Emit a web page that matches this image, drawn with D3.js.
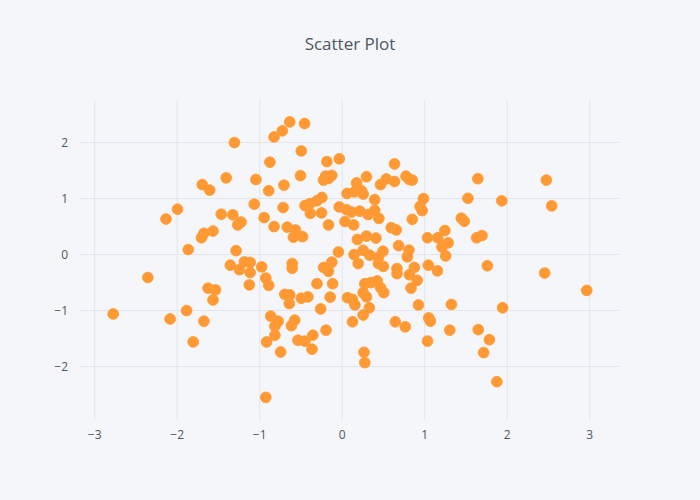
<!DOCTYPE html>
<html>
<head>
<meta charset="utf-8">
<script src="https://cdn.jsdelivr.net/npm/d3@7"></script>
<style>
  html, body { margin: 0; padding: 0; background: #F5F6F9; }
  svg { display: block; }
</style>
</head>
<body>
<div id="chart"></div>
<script>
const title = "Scatter Plot";
const xTicks = [-3, -2, -1, 0, 1, 2, 3];
const yTicks = [-2, -1, 0, 1, 2];

const xValues = [
  -1.30, -1.40, -1.69, -1.60, -1.04, -1.99, -2.13, -1.46, -1.32, -1.06,
  -0.94, -1.22, -1.26, -1.56, -1.67, -1.70, -1.86, -1.28, -1.35, -1.18,
  -1.11, -0.97, -1.24, -1.11, -1.12, -0.92, -0.885, -2.35, -2.77, -2.08,
  -1.88, -1.67, -1.80, -1.62, -1.53, -1.56, -0.86, -0.91, -0.92, -0.885,
  -0.87, -0.82,
  -0.63, -0.45, -0.72, -0.49, -0.18, -0.03, -0.50, -0.70, -0.195, -0.22,
  -0.12, -0.16, -0.71, -0.445, -0.385, -0.30, -0.24, -0.38, -0.245, -0.03,
  -0.16, -0.82, -0.66, -0.56, -0.585, -0.475, -0.04, -0.60, -0.60, -0.12,
  -0.22, -0.16, -0.30, -0.11, -0.69, -0.63, -0.635, -0.49, -0.41, -0.14,
  -0.255, -0.77, -0.81, -0.57, -0.61, -0.19, -0.81, -0.53, -0.445, -0.35,
  -0.36, -0.74,
  0.64, 0.18, 0.30, 0.47, 0.54, 0.64, 0.78, 0.82, 0.855, 0.065,
  0.155, 0.24, 0.26, 0.40, 0.99, 0.95, 0.975, 0.06, 0.12, 0.22,
  0.32, 0.40, 0.45, 0.04, 0.145, 0.60, 0.66, 0.855, 0.19, 0.30,
  0.415, 0.69, 0.815, 0.795, 0.15, 0.26, 0.34, 0.445, 0.50, 0.20,
  0.445, 0.505, 0.67, 0.67, 0.88, 0.82, 0.915, 0.84, 0.28, 0.355,
  0.43, 0.47, 0.51, 0.26, 0.07, 0.13, 0.16, 0.30, 0.335, 0.26,
  0.13, 0.27, 0.28, 1.05, 1.16, 0.93, 0.65, 0.77, 1.055, 1.075,
  1.04,
  1.65, 2.48, 1.53, 1.94, 2.545, 1.45, 1.485, 1.25, 1.04, 1.165,
  1.29, 1.215, 1.635, 1.70, 1.26, 1.765, 2.46, 2.97, 1.33, 1.95,
  1.31, 1.655, 1.79, 1.72, 1.88
];
const yValues = [
  1.99, 1.36, 1.24, 1.14, 1.33, 0.80, 0.625, 0.71, 0.70, 0.89,
  0.65, 0.57, 0.52, 0.41, 0.37, 0.29, 0.08, 0.06, -0.20, -0.14,
  -0.15, -0.23, -0.28, -0.33, -0.55, -0.43, -0.56, -0.42, -1.07, -1.16,
  -1.01, -1.20, -1.57, -0.61, -0.64, -0.82, -1.11, -1.57, -2.56, 1.13,
  1.64, 2.09,
  2.36, 2.33, 2.20, 1.84, 1.65, 1.70, 1.40, 1.23, 1.39, 1.32,
  1.405, 1.35, 0.83, 0.865, 0.90, 0.95, 1.01, 0.725, 0.735, 0.84,
  0.52, 0.49, 0.48, 0.43, 0.30, 0.31, 0.036, -0.17, -0.255, -0.145,
  -0.24, -0.31, -0.53, -0.53, -0.72, -0.73, -0.885, -0.79, -0.765, -0.77,
  -0.98, -1.20, -1.29, -1.18, -1.28, -1.36, -1.45, -1.54, -1.555, -1.45,
  -1.70, -1.75,
  1.61, 1.27, 1.38, 1.24, 1.34, 1.295, 1.39, 1.33, 1.32, 1.08,
  1.11, 1.13, 1.07, 0.97, 0.99, 0.85, 0.775, 0.79, 0.75, 0.765,
  0.705, 0.78, 0.635, 0.58, 0.52, 0.47, 0.43, 0.62, 0.26, 0.32,
  0.285, 0.15, 0.07, -0.05, -0.01, 0.066, -0.02, -0.06, 0.05, -0.17,
  -0.17, -0.22, -0.26, -0.35, -0.24, -0.37, -0.47, -0.61, -0.53, -0.51,
  -0.48, -0.60, -0.69, -0.69, -0.78, -0.81, -0.91, -0.765, -0.96, -1.09,
  -1.21, -1.755, -1.94, -0.20, -0.30, -0.91, -1.21, -1.30, -1.14, -1.20,
  -1.555,
  1.345, 1.32, 0.995, 0.95, 0.86, 0.64, 0.585, 0.42, 0.29, 0.29,
  0.20, 0.125, 0.29, 0.33, -0.035, -0.21, -0.34, -0.65, -0.90, -0.96,
  -1.36, -1.35, -1.53, -1.76, -2.28
];

const W = 700, H = 500;
const margin = {l: 80, r: 80, t: 100, b: 80};
const bg = "#F5F6F9", grid = "#E1E5ED", textColor = "#4D5663", markerColor = "#FF9933";

const svg = d3.select("#chart").append("svg")
  .attr("width", W).attr("height", H)
  .style("background", bg)
  .style("font-family", "'Open Sans', verdana, arial, sans-serif");

svg.append("rect").attr("width", W).attr("height", H).attr("fill", bg);

const x = d3.scaleLinear().domain([-3.172, 3.373]).range([margin.l, W - margin.r]);
const y = d3.scaleLinear().domain([-2.964, 2.75]).range([H - margin.b, margin.t]);

const fmt = d => (d < 0 ? "\u2212" + Math.abs(d) : String(d));

// grid
const gx = svg.append("g")
  .attr("transform", `translate(0,${H - margin.b})`)
  .call(d3.axisBottom(x).tickValues(xTicks).tickSize(-(H - margin.t - margin.b)).tickFormat(fmt).tickPadding(10));
const gy = svg.append("g")
  .attr("transform", `translate(${margin.l},0)`)
  .call(d3.axisLeft(y).tickValues(yTicks).tickSize(-(W - margin.l - margin.r)).tickFormat(fmt).tickPadding(12));

[gx, gy].forEach(g => {
  g.select(".domain").remove();
  g.selectAll(".tick line").attr("stroke", grid).attr("stroke-width", 1);
  g.selectAll(".tick text").attr("fill", textColor).style("font-size", "12px")
    .style("font-family", "'Open Sans', verdana, arial, sans-serif");
});
gy.selectAll(".tick text").attr("dy", "0.35em");

const pts = xValues.map((v, i) => ({x: v, y: yValues[i]}));

svg.append("g").selectAll("circle").data(pts).join("circle")
  .attr("cx", d => x(d.x))
  .attr("cy", d => y(d.y))
  .attr("r", 5.4)
  .attr("fill", markerColor)
  .attr("stroke", markerColor)
  .attr("stroke-width", 0.8);

svg.append("text")
  .attr("x", W / 2).attr("y", 50)
  .attr("text-anchor", "middle")
  .attr("fill", textColor)
  .style("font-size", "17px")
  .style("font-family", "'Open Sans', verdana, arial, sans-serif")
  .text(title);
</script>
</body>
</html>
